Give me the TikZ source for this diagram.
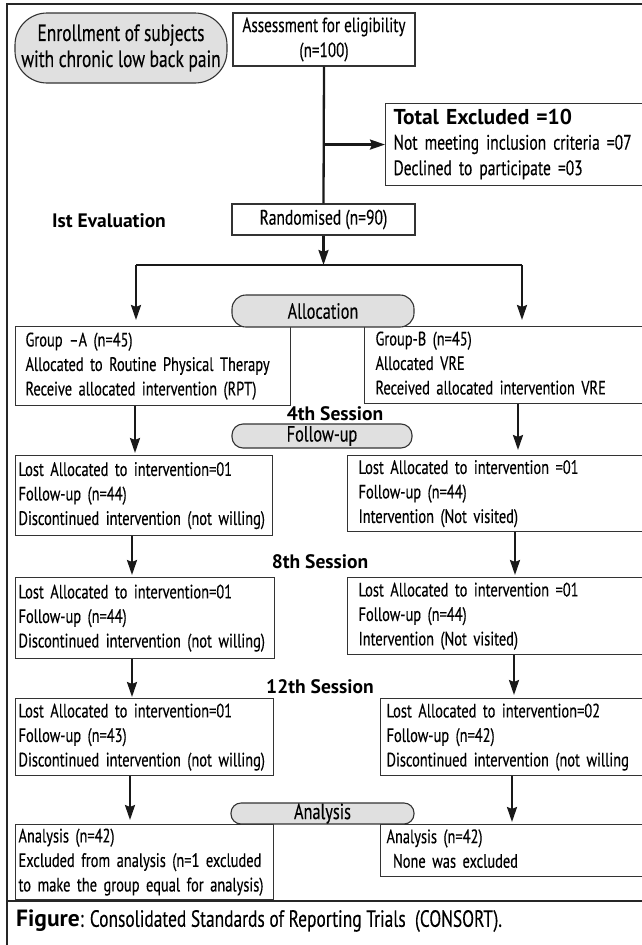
\documentclass[tikz,border=0pt]{standalone}
\usepackage{fontspec}
\setmainfont{PT Sans}[UprightFeatures={FakeStretch=0.74,FakeBold=0.3}, BoldFeatures={FakeStretch=0.86}]
\newfontfamily\hbold{PT Sans}[FakeStretch=1.0]
\usetikzlibrary{arrows.meta}
\newcommand\bodyfont{\fontsize{19.5}{24.5}\selectfont}
\newcommand\fsz[1]{\fontsize{#1}{1.2\dimexpr#1pt\relax}\selectfont}
\newcommand\hb[1]{{\hbold\bfseries #1}}
\newcommand\mylines[1]{\begin{tabular}{@{}l@{}}#1\end{tabular}}
\tikzset{
  lbox/.style={draw=black!80, line width=1.1pt, anchor=north west, align=left,
    inner ysep=0pt, font=\bodyfont},
  cbox/.style={draw=black!80, line width=1.1pt, align=center, inner sep=0pt, font=\bodyfont},
  stadium/.style={draw=black!80, line width=1.1pt, fill=black!12, align=center,
    inner sep=0pt, font=\fsz{22}},
  lbl/.style={font=\bodyfont\hbold\bfseries, inner sep=0pt},
  arr/.style={draw=black!90, line width=2.3pt, -{Stealth[length=15pt,width=10pt,inset=2pt]}},
  plain/.style={draw=black!90, line width=2.3pt},
  frame/.style={draw=black!85, line width=2.6pt},
}
\begin{document}
\begin{tikzpicture}[x=1pt,y=-1pt]
\useasboundingbox (0,0) rectangle (641,945);
% frame
\draw[frame] (7,945) -- (7,4) -- (660,4);
\draw[frame] (7,901) -- (660,901);

% top part
\node[stadium, minimum width=212pt, minimum height=70pt, rounded corners=32pt, font=\fontsize{23.5}{26}\selectfont] (enroll) at (121,48) {Enrollment of subjects\\with chronic low back pain};
\node[cbox, minimum width=182pt, minimum height=53pt, font=\fontsize{20.5}{25}\selectfont] (assess) at (324,39.5) {Assessment for eligibility\\(n=100)};
\node[lbox, text width=259pt, inner xsep=8pt, minimum height=82pt, font=\fontsize{21}{25.5}\selectfont] (excl) at (385,103)
  {\mylines{{\fsz{21.5}\hb{Total Excluded =10}}\\Not meeting inclusion criteria =07\\Declined to participate =03}};
\node[cbox, minimum width=183pt, minimum height=31pt, font=\fsz{21}] (rand) at (323.5,219.5) {Randomised (n=90)};
\node[lbl] (eval) at (109,221) {Ist Evaluation};

\draw[plain] (assess.south) -- (rand.north);
\draw[arr] (assess.south |- excl.west) -- (excl.west);

\coordinate (sp) at (323.5,265);
\coordinate (spl) at (136,265);
\coordinate (spr) at (522,265);
\draw[arr] (rand.south) -- (sp);
\draw[plain] (spl) -- (spr);

% groups
\node[lbox, text width=255pt, inner xsep=10pt, minimum height=79pt] (gA) at (15,326)
  {\mylines{Group --A (n=45)\\Allocated to Routine Physical Therapy\\Receive allocated intervention (RPT)}};
\node[lbox, text width=274pt, inner xsep=11pt, minimum height=77pt] (gB) at (364,326)
  {\mylines{Group-B (n=45)\\Allocated VRE\\Received allocated intervention VRE}};
\draw[arr, shorten >=6pt] (spl) -- (spl |- gA.north);
\draw[arr, shorten >=6pt] (spr) -- (spr |- gB.north);
\node[stadium, minimum width=182pt, minimum height=32pt, rounded corners=14pt] (alloc) at (323,311) {Allocation};

% 4th session
\node[lbl] (s4) at (335,414) {4th Session};
\node[stadium, minimum width=180pt, minimum height=24pt, rounded corners=11pt] (fu) at (322,436) {Follow-up};
\node[lbox, text width=251pt, inner xsep=3pt, minimum height=80pt] (fA4) at (15,455)
  {\mylines{Lost Allocated to intervention=01\\Follow-up (n=44)\\Discontinued intervention (not willing)}};
\node[lbox, text width=291pt, inner xsep=11pt, minimum height=76pt] (fB4) at (347,455)
  {\mylines{Lost Allocated to intervention =01\\Follow-up (n=44)\\Intervention (Not visited)}};
\draw[arr, shorten >=2pt] (135,0 |- gA.south) -- (135,0 |- fA4.north);
\draw[arr, shorten >=5pt] (518,0 |- gB.south) -- (518,0 |- fB4.north);

% 8th session
\node[lbl] (s8) at (320,562) {8th Session};
\node[lbox, text width=253pt, inner xsep=3pt, minimum height=81pt] (fA8) at (15,577)
  {\mylines{Lost Allocated to intervention=01\\Follow-up (n=44)\\Discontinued intervention (not willing)}};
\node[lbox, text width=291pt, inner xsep=11pt, minimum height=77pt] (fB8) at (347,577)
  {\mylines{Lost Allocated to intervention =01\\Follow-up (n=44)\\Intervention (Not visited)}};
\draw[arr, shorten >=2pt] (132,0 |- fA4.south) -- (132,0 |- fA8.north);
\draw[arr, shorten >=2pt] (515,0 |- fB4.south) -- (515,0 |- fB8.north);

% 12th session
\node[lbl] (s12) at (320,687) {12th Session};
\node[lbox, text width=252pt, inner xsep=3pt, minimum height=77pt] (fA12) at (15,698)
  {\mylines{Lost Allocated to intervention=01\\Follow-up (n=43)\\Discontinued intervention (not willing)}};
\node[lbox, text width=268pt, inner xsep=6pt, minimum height=77pt] (fB12) at (380,698)
  {\mylines{Lost Allocated to intervention=02\\Follow-up (n=42)\\Discontinued intervention (not willing}};
\draw[arr, shorten >=1pt] (132,0 |- fA8.south) -- (132,0 |- fA12.north);
\draw[arr, shorten >=3pt] (514,0 |- fB8.south) -- (514,0 |- fB12.north);

% analysis
\node[lbox, text width=252pt, inner xsep=3pt, minimum height=75pt] (aA) at (15,824)
  {\mylines{Analysis (n=42)\\Excluded from analysis (n=1 excluded\\to make the group equal for analysis)}};
\node[lbox, text width=268pt, inner xsep=6pt, minimum height=52pt] (aB) at (380,824)
  {\mylines{Analysis (n=42)\\\ None was excluded}};
\draw[arr, shorten >=4pt] (130,0 |- fA12.south) -- (130,0 |- aA.north);
\draw[arr, shorten >=2pt] (512,0 |- fB12.south) -- (512,0 |- aB.north);
\node[stadium, minimum width=183pt, minimum height=21pt, rounded corners=10pt] (ana) at (322.5,813.5) {Analysis};

% caption
\node[anchor=west, inner sep=0pt, font=\fsz{23.5}] (cap) at (16,921) {\hb{Figure}: Consolidated Standards of Reporting Trials~~(CONSORT).};
\end{tikzpicture}
\end{document}
